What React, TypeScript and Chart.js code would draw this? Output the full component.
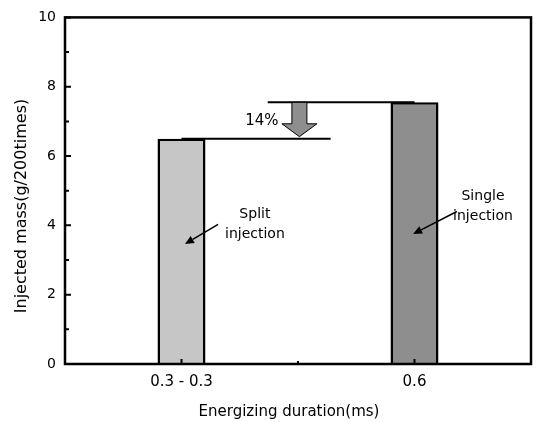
import React, { useEffect, useRef } from "react";
import { Chart, registerables } from "chart.js";

Chart.register(...registerables);

const categories = ["0.3 - 0.3", "0.6"];
const injectedMass = [6.5, 7.55];
const barColors = ["#c6c6c6", "#8e8e8e"];
const yMajorTicks = [0, 2, 4, 6, 8, 10];
const yMinorTicks = [1, 3, 5, 7, 9];
const xMinorTicks = [0.5];
const xTitle = "Energizing duration(ms)";
const yTitle = "Injected mass(g/200times)";

const FONT = "'DejaVu Sans', Verdana, sans-serif";

const annotationPlugin = {
  id: "annots",
  beforeDatasetsDraw(chart: any) {
    const { ctx, scales } = chart;
    const x = scales.x, y = scales.y;
    ctx.save();
    ctx.strokeStyle = "#000";
    ctx.lineWidth = 2;
    ctx.beginPath();
    ctx.moveTo(x.getPixelForValue(0.37), y.getPixelForValue(injectedMass[1]));
    ctx.lineTo(x.getPixelForValue(1), y.getPixelForValue(injectedMass[1]));
    ctx.moveTo(x.getPixelForValue(0), y.getPixelForValue(injectedMass[0]));
    ctx.lineTo(x.getPixelForValue(0.64), y.getPixelForValue(injectedMass[0]));
    ctx.stroke();
    ctx.restore();
  },
  afterDraw(chart: any) {
    const { ctx, scales, chartArea } = chart;
    const x = scales.x, y = scales.y;
    ctx.save();
    // frame
    ctx.strokeStyle = "#000";
    ctx.lineWidth = 2.5;
    ctx.strokeRect(chartArea.left, chartArea.top, chartArea.right - chartArea.left, chartArea.bottom - chartArea.top);
    // inward ticks
    ctx.lineWidth = 2;
    ctx.beginPath();
    yMajorTicks.forEach((v) => {
      const py = y.getPixelForValue(v);
      ctx.moveTo(chartArea.left, py);
      ctx.lineTo(chartArea.left + 6, py);
    });
    yMinorTicks.forEach((v) => {
      const py = y.getPixelForValue(v);
      ctx.moveTo(chartArea.left, py);
      ctx.lineTo(chartArea.left + 4, py);
    });
    categories.forEach((_, i) => {
      const px = x.getPixelForValue(i);
      ctx.moveTo(px, chartArea.bottom);
      ctx.lineTo(px, chartArea.bottom - 5);
    });
    xMinorTicks.forEach((v) => {
      const px = x.getPixelForValue(v);
      ctx.moveTo(px, chartArea.bottom);
      ctx.lineTo(px, chartArea.bottom - 3);
    });
    ctx.stroke();

    // 14% arrow
    const cx = x.getPixelForValue(0.506);
    const yTop = y.getPixelForValue(injectedMass[1]);
    const yShaftEnd = y.getPixelForValue(6.93);
    const yTip = y.getPixelForValue(6.56);
    ctx.beginPath();
    ctx.moveTo(cx - 7.5, yTop);
    ctx.lineTo(cx + 7.5, yTop);
    ctx.lineTo(cx + 7.5, yShaftEnd);
    ctx.lineTo(cx + 17.5, yShaftEnd);
    ctx.lineTo(cx, yTip);
    ctx.lineTo(cx - 17.5, yShaftEnd);
    ctx.lineTo(cx - 7.5, yShaftEnd);
    ctx.closePath();
    ctx.fillStyle = "#8e8e8e";
    ctx.fill();
    ctx.lineWidth = 1;
    ctx.stroke();

    // texts
    ctx.fillStyle = "#000";
    ctx.textAlign = "center";
    ctx.textBaseline = "middle";
    ctx.font = `15px ${FONT}`;
    ctx.fillText("14%", x.getPixelForValue(0.345), y.getPixelForValue(7.02));
    ctx.font = `14px ${FONT}`;
    ctx.fillText("Split", x.getPixelForValue(0.315), y.getPixelForValue(4.32));
    ctx.fillText("injection", x.getPixelForValue(0.315), y.getPixelForValue(3.74));
    ctx.fillText("Single", x.getPixelForValue(1.294), y.getPixelForValue(4.835));
    ctx.fillText("injection", x.getPixelForValue(1.294), y.getPixelForValue(4.26));

    // axis titles
    ctx.font = `15px ${FONT}`;
    ctx.fillText(xTitle, 289, 412);
    ctx.save();
    ctx.translate(22, 206);
    ctx.rotate(-Math.PI / 2);
    ctx.font = `16px ${FONT}`;
    ctx.fillText(yTitle, 0, 0);
    ctx.restore();

    // pointer arrows
    const arrow = (x0: number, y0: number, x1: number, y1: number) => {
      const ax = x.getPixelForValue(x0), ay = y.getPixelForValue(y0);
      const bx = x.getPixelForValue(x1), by = y.getPixelForValue(y1);
      const ang = Math.atan2(by - ay, bx - ax);
      const hl = 9, hw = 4;
      const bxs = bx - hl * Math.cos(ang), bys = by - hl * Math.sin(ang);
      ctx.beginPath();
      ctx.moveTo(ax, ay);
      ctx.lineTo(bxs, bys);
      ctx.lineWidth = 1.5;
      ctx.strokeStyle = "#000";
      ctx.stroke();
      ctx.beginPath();
      ctx.moveTo(bx, by);
      ctx.lineTo(bxs + hw * Math.sin(ang), bys - hw * Math.cos(ang));
      ctx.lineTo(bxs - hw * Math.sin(ang), bys + hw * Math.cos(ang));
      ctx.closePath();
      ctx.fillStyle = "#000";
      ctx.fill();
    };
    arrow(0.157, 4.03, 0.015, 3.46);
    arrow(1.182, 4.4, 0.994, 3.75);
    ctx.restore();
  },
};

export default function App() {
  const ref = useRef<HTMLCanvasElement>(null);
  useEffect(() => {
    if (!ref.current) return;
    const chart = new Chart(ref.current, {
      type: "bar",
      data: {
        labels: categories,
        datasets: [
          {
            data: injectedMass,
            backgroundColor: barColors,
            borderColor: "#000",
            borderWidth: 2.5,
            barPercentage: 0.206,
            categoryPercentage: 1,
          },
        ],
      },
      options: {
        responsive: false,
        animation: false,
        devicePixelRatio: 1,
        layout: { padding: { top: 15, right: 6, left: 0, bottom: 0 } },
        plugins: { legend: { display: false }, tooltip: { enabled: false } },
        scales: {
          x: {
            offset: true,
            grid: { display: false, drawTicks: false },
            border: { display: false },
            ticks: { padding: 9, color: "#000", font: { family: FONT, size: 15 } },
            title: { display: false },
            afterFit: (s: any) => { s.height = 58; },
          },
          y: {
            min: 0,
            max: 10,
            grid: { display: false, drawTicks: false },
            border: { display: false },
            ticks: { stepSize: 2, padding: 9, color: "#000", font: { family: FONT, size: 14 } },
            title: { display: false },
            afterFit: (s: any) => { s.width = 65; },
          },
        },
      },
      plugins: [annotationPlugin],
    });
    return () => chart.destroy();
  }, []);
  return (
    <div style={{ position: "absolute", left: 0, top: 0, width: 537, height: 422, background: "#fff" }}>
      <canvas ref={ref} width={537} height={422} style={{ width: 537, height: 422 }} />
    </div>
  );
}
